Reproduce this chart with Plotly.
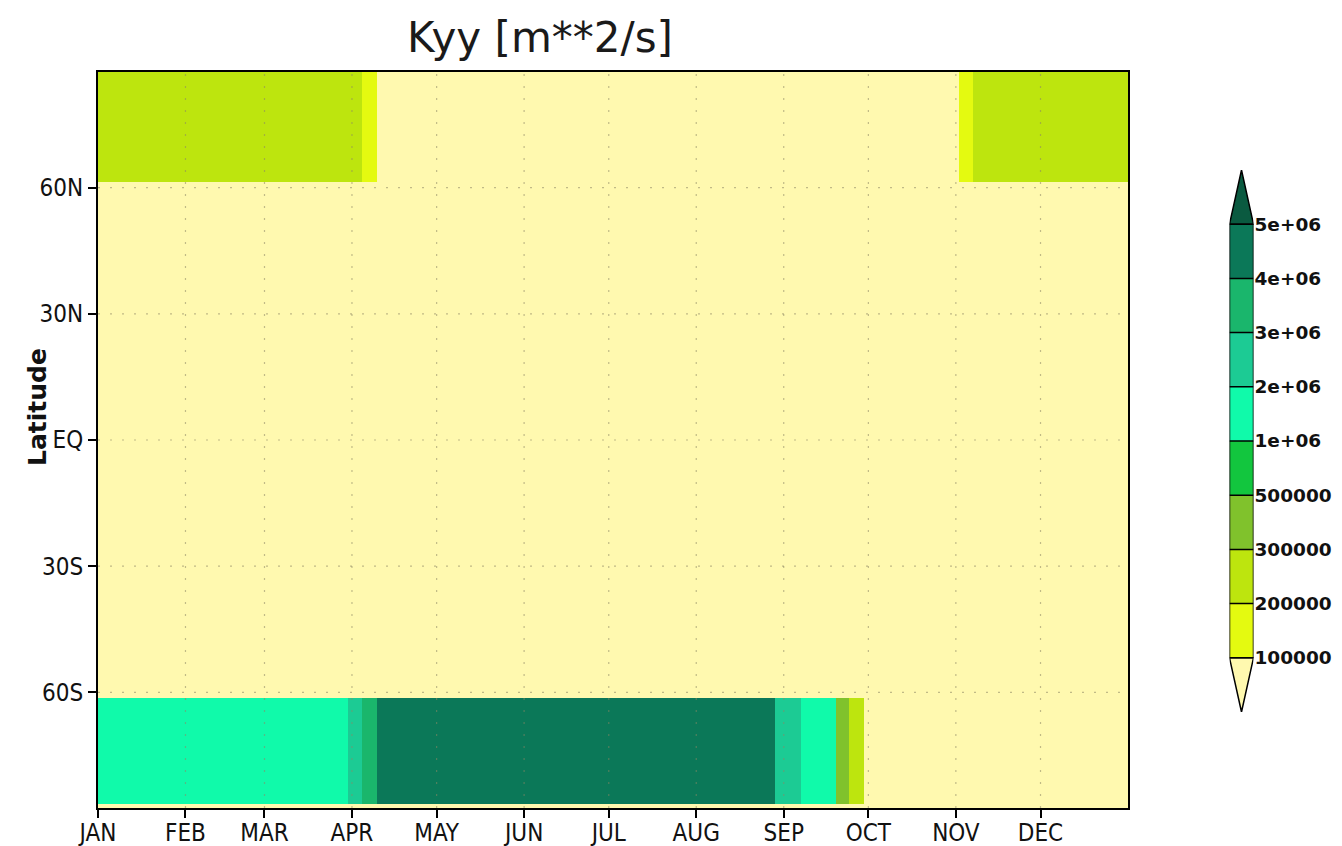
import numpy as np
import plotly.graph_objects as go

# Shading levels of Kyy (m**2/s) and the fill colour of each interval
levels = [1e5, 2e5, 3e5, 5e5, 1e6, 2e6, 3e6, 4e6, 5e6]
level_labels = ["100000", "200000", "300000", "500000", "1e+06",
                "2e+06", "3e+06", "4e+06", "5e+06"]
fill_colors = ["#FFF9AF", "#E4FA10", "#BDE50E", "#80C22C", "#12C63E",
               "#10FAAA", "#1CCB94", "#1AB66C", "#0B7858", "#0A5A40"]

# Day-of-year boundaries of the constant segments along the time axis
day_edges = [0, 88.7, 93.5, 98.7, 240.0, 249.0, 261.5, 266.3, 271.3, 305.2, 310.0, 365]
# Latitude band edges (degrees)
lat_edges = [-87.5, -86.5, -61.4, 61.25, 87.5]

# Kyy per segment, one list per latitude band (south to north)
kyy_south_polar = [5e4, 5e4, 5e4, 5e4, 5e4, 5e4, 5e4, 5e4, 5e4, 5e4, 5e4]
kyy_south = [1.5e6, 2.5e6, 3.5e6, 4.5e6, 2.5e6, 1.5e6, 4e5, 2.5e5, 5e4, 5e4, 5e4]
kyy_middle = [5e4, 5e4, 5e4, 5e4, 5e4, 5e4, 5e4, 5e4, 5e4, 5e4, 5e4]
kyy_north = [2.5e5, 2.5e5, 1.5e5, 5e4, 5e4, 5e4, 5e4, 5e4, 5e4, 1.5e5, 2.5e5]

month_starts = [0, 31, 59, 90, 120, 151, 181, 212, 243, 273, 304, 334]
month_names = ["JAN", "FEB", "MAR", "APR", "MAY", "JUN",
               "JUL", "AUG", "SEP", "OCT", "NOV", "DEC"]
lat_ticks = [-60, -30, 0, 30, 60]
lat_names = ["60S", "30S", "EQ", "30N", "60N"]

W, H = 1342, 846
n_col = len(fill_colors)

# stepped colour scale: level index i -> fill_colors[i]
colorscale = []
for i, c in enumerate(fill_colors):
    colorscale.append([i / n_col, c])
    colorscale.append([(i + 1) / n_col, c])

kyy = np.array([kyy_south_polar, kyy_south, kyy_middle, kyy_north])
level_index = np.digitize(kyy, levels)

fig = go.Figure()

fig.add_trace(go.Heatmap(
    x=day_edges, y=lat_edges, z=level_index,
    colorscale=colorscale, zmin=-0.5, zmax=n_col - 0.5,
    showscale=False, hoverinfo="skip", xaxis="x", yaxis="y",
))

# ---- label bar with end triangles, drawn on its own small axes ----
n_box = len(levels) - 1
fig.add_trace(go.Heatmap(
    x=[0, 1], y=list(range(n_box + 1)),
    z=[[i + 1] for i in range(n_box)],
    colorscale=colorscale, zmin=-0.5, zmax=n_col - 0.5,
    showscale=False, hoverinfo="skip", xaxis="x2", yaxis="y2",
))
# bottom (below first level) and top (above last level) triangles
fig.add_trace(go.Scatter(
    x=[0, 1, 0.5, 0], y=[0, 0, -1, 0], mode="lines", fill="toself",
    fillcolor=fill_colors[0], line=dict(color="black", width=1.5),
    xaxis="x2", yaxis="y2", hoverinfo="skip", cliponaxis=False,
))
fig.add_trace(go.Scatter(
    x=[0, 1, 0.5, 0], y=[n_box, n_box, n_box + 1, n_box], mode="lines", fill="toself",
    fillcolor=fill_colors[-1], line=dict(color="black", width=1.5),
    xaxis="x2", yaxis="y2", hoverinfo="skip", cliponaxis=False,
))
# box outlines
ox, oy = [], []
for k in range(n_box + 1):
    ox += [0, 1, None]
    oy += [k, k, None]
ox += [0, 0, None, 1, 1]
oy += [0, n_box, None, 0, n_box]
fig.add_trace(go.Scatter(
    x=ox, y=oy, mode="lines", line=dict(color="black", width=1.5),
    xaxis="x2", yaxis="y2", hoverinfo="skip", cliponaxis=False,
))

# sparse dotted grid drawn over the shading
grid_style = dict(color="rgba(140,135,100,0.55)", width=1.2, dash="2px,10px")
shapes = []
for d in month_starts[1:]:
    shapes.append(dict(type="line", xref="x", yref="y domain", x0=d, x1=d, y0=0, y1=1,
                       line=grid_style, layer="above"))
for la in lat_ticks:
    shapes.append(dict(type="line", xref="x domain", yref="y", x0=0, x1=1, y0=la, y1=la,
                       line=grid_style, layer="above"))

tick_font = dict(family="DejaVu Sans Condensed, Liberation Sans, sans-serif",
                 size=24, color="#111111")

fig.update_layout(
    width=W, height=H,
    margin=dict(l=0, r=0, t=0, b=0, autoexpand=False),
    paper_bgcolor="white", plot_bgcolor="white",
    showlegend=False,
    shapes=shapes,
    xaxis=dict(
        domain=[98 / W, 1128 / W], range=[0, 365], anchor="y", automargin=False,
        tickmode="array", tickvals=month_starts, ticktext=month_names,
        ticks="outside", ticklen=8, tickwidth=1.5, tickcolor="black",
        ticklabelstandoff=-6,
        showgrid=False, zeroline=False,
        showline=True, linewidth=2, linecolor="black", mirror=True,
        tickfont=tick_font,
    ),
    yaxis=dict(
        domain=[1 - 808 / H, 1 - 72 / H], range=[-87.5, 87.5], anchor="x", automargin=False,
        tickmode="array", tickvals=lat_ticks, ticktext=lat_names,
        ticks="outside", ticklen=8, tickwidth=1.5, tickcolor="black",
        showgrid=False, zeroline=False,
        showline=True, linewidth=2, linecolor="black", mirror=True,
        tickfont=tick_font,
    ),
    xaxis2=dict(
        domain=[1229.5 / W, 1253.5 / W], range=[0, 1], anchor="y2", automargin=False,
        visible=False, fixedrange=True,
    ),
    yaxis2=dict(
        domain=[1 - 712 / H, 1 - 170 / H], range=[-1, n_box + 1], anchor="x2",
        automargin=False,
        side="right", tickmode="array", tickvals=list(range(n_box + 1)),
        ticktext=level_labels, ticks="", showgrid=False, zeroline=False,
        showline=False,
        tickfont=dict(family="DejaVu Sans", size=18.5, color="#111111", weight="bold"),
    ),
    annotations=[
        dict(text="Kyy [m**2/s]", x=540 / W, y=1 - 38 / H, xref="paper", yref="paper",
             xanchor="center", yanchor="middle", showarrow=False,
             font=dict(family="DejaVu Sans", size=42, color="#1a1a1a")),
        dict(text="Latitude", x=37 / W, y=1 - 407 / H, xref="paper", yref="paper",
             xanchor="center", yanchor="middle", showarrow=False, textangle=-90,
             font=dict(family="DejaVu Sans", size=25, color="#111111", weight="bold")),
    ],
)

fig.write_html("out.html")
